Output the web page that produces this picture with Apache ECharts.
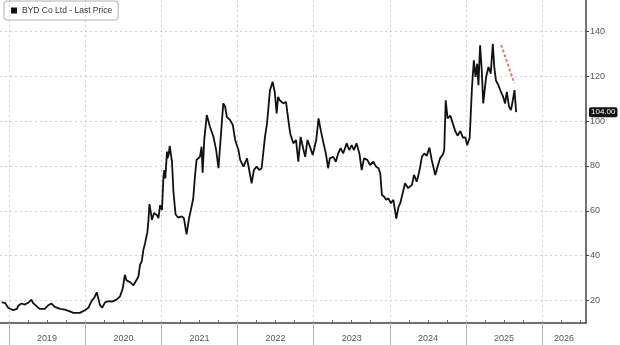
<!DOCTYPE html>
<html>
<head>
<meta charset="utf-8">
<script src="https://cdn.jsdelivr.net/npm/echarts@6/dist/echarts.min.js"></script>
<style>
  html, body { margin: 0; padding: 0; background: #ffffff; }
  #chart { width: 620px; height: 345px; }
</style>
</head>
<body>
<div id="chart"></div>
<script>
// ---- data ----
const seriesName = 'BYD Co Ltd - Last Price';

const dates = [
  '2018-11-26','2018-12-12','2018-12-27','2019-01-21','2019-02-07','2019-02-15','2019-03-01','2019-03-16',
  '2019-04-02','2019-04-18','2019-04-25','2019-05-12','2019-05-27','2019-06-21','2019-07-06','2019-07-22',
  '2019-08-08','2019-09-02','2019-09-25','2019-10-19','2019-11-05','2019-12-06','2019-12-30','2020-01-16',
  '2020-02-02','2020-02-13','2020-02-25','2020-03-03','2020-03-11','2020-03-22','2020-04-05','2020-04-20',
  '2020-05-08','2020-05-30','2020-06-16','2020-06-24','2020-06-29','2020-07-09','2020-07-17','2020-08-03',
  '2020-08-19','2020-09-05','2020-09-12','2020-09-20','2020-09-28','2020-10-06','2020-10-14','2020-10-19',
  '2020-10-25','2020-10-29','2020-11-04','2020-11-16','2020-11-26','2020-12-09','2020-12-17','2020-12-25',
  '2021-01-03','2021-01-10','2021-01-14','2021-01-19','2021-01-27','2021-01-29','2021-02-04','2021-02-09',
  '2021-02-12','2021-02-20','2021-02-27','2021-03-09','2021-03-21','2021-04-07','2021-04-18','2021-05-01',
  '2021-05-13','2021-05-25','2021-06-02','2021-06-10','2021-06-18','2021-07-04','2021-07-12','2021-07-17',
  '2021-07-25','2021-08-06','2021-08-21','2021-09-07','2021-09-20','2021-10-01','2021-10-12','2021-10-24',
  '2021-11-02','2021-11-10','2021-11-26','2021-12-09','2021-12-20','2022-01-05','2022-01-13','2022-01-29',
  '2022-02-15','2022-02-23','2022-03-09','2022-03-20','2022-04-02','2022-04-15','2022-04-26','2022-05-12',
  '2022-05-22','2022-06-05','2022-06-18','2022-06-28','2022-07-07','2022-07-14','2022-07-22','2022-08-08',
  '2022-08-21','2022-08-27','2022-09-10','2022-09-25','2022-10-08','2022-10-19','2022-10-30','2022-11-13',
  '2022-11-21','2022-12-02','2022-12-14','2022-12-27','2023-01-13','2023-01-24','2023-02-05','2023-02-17',
  '2023-02-28','2023-03-11','2023-03-19','2023-04-05','2023-04-17','2023-04-28','2023-05-10','2023-05-22',
  '2023-06-08','2023-06-20','2023-07-02','2023-07-13','2023-07-25','2023-08-08','2023-08-19','2023-08-30',
  '2023-09-15','2023-09-28','2023-10-14','2023-10-27','2023-11-08','2023-11-16','2023-11-24','2023-12-04',
  '2023-12-14','2023-12-25','2024-01-06','2024-01-18','2024-02-01','2024-02-12','2024-02-20','2024-03-14',
  '2024-03-29','2024-04-16','2024-04-26','2024-05-09','2024-05-21','2024-06-03','2024-06-14','2024-06-26',
  '2024-07-09','2024-07-20','2024-08-06','2024-08-17','2024-08-29','2024-09-12','2024-09-18','2024-09-25',
  '2024-10-04','2024-10-17','2024-10-29','2024-11-10','2024-11-21','2024-12-04','2024-12-17','2024-12-28',
  '2025-01-06','2025-01-18','2025-01-29','2025-02-07','2025-02-15','2025-02-23','2025-03-01','2025-03-09',
  '2025-03-17','2025-03-24','2025-04-07','2025-04-18','2025-04-29','2025-05-09','2025-05-16','2025-05-24',
  '2025-06-05','2025-06-17','2025-06-28','2025-07-07','2025-07-15','2025-07-26','2025-08-04','2025-08-13',
  '2025-08-21','2025-08-29'
];

const prices = [
  19.2,19.0,16.8,15.7,16.3,17.8,18.7,18.2,
  19.0,20.4,19.0,17.5,16.3,16.3,17.8,18.7,
  17.2,16.3,16.0,15.2,14.5,14.5,15.7,16.8,
  20.1,21.2,23.7,21.2,18.2,16.8,19.2,19.7,
  19.5,20.4,21.9,24.1,25.5,31.5,29.0,28.2,
  26.8,29.5,30.8,36.0,37.5,42.7,45.6,47.9,
  50.5,54.5,63.0,56.0,59.0,58.2,56.8,62.5,
  60.4,75.0,78.2,74.5,86.4,83.4,85.0,89.0,
  88.6,81.9,68.5,58.5,57.0,57.5,56.8,49.5,
  56.8,61.9,65.6,75.2,82.7,84.1,88.6,77.0,
  92.0,102.7,97.5,93.0,87.1,79.0,93.0,107.9,
  106.4,101.9,100.4,98.2,91.6,87.1,82.7,79.7,
  83.4,82.7,72.3,78.2,79.7,78.2,79.0,93.0,
  99.0,113.8,117.5,113.0,103.4,110.8,109.3,107.9,
  108.6,104.1,94.5,90.1,91.6,81.9,93.0,87.1,
  84.1,91.6,88.6,84.9,91.6,101.2,95.3,90.1,
  85.6,79.0,83.4,84.1,81.9,85.6,87.9,85.6,
  90.1,87.1,89.3,87.1,90.1,85.6,78.2,83.4,
  82.7,80.4,81.9,79.7,79.0,76.8,67.1,66.4,
  64.9,65.6,63.4,64.9,56.5,61.9,63.4,72.3,
  70.1,71.6,76.0,73.0,77.5,84.1,85.6,84.5,
  88.2,82.7,76.0,79.7,83.4,85.2,87.1,109.3,
  101.2,102.5,99.0,95.5,93.5,95.6,92.6,92.8,
  89.3,92.6,115.0,127.1,119.7,125.6,116.0,133.8,
  122.7,107.9,119.7,124.1,121.2,134.5,124.1,118.2,
  116.0,113.0,110.8,107.9,113.0,106.4,104.9,109.3,
  113.8,104.0
];

const yTickValues = [20, 40, 60, 80, 100, 120, 140];
const yearStarts = ['2019-01-01','2020-01-01','2021-01-01','2022-01-01','2023-01-01','2024-01-01','2025-01-01','2026-01-01'];
const yearLabelDates = ['2019-07-02','2020-07-02','2021-07-02','2022-07-02','2023-07-02','2024-07-02','2025-07-02','2026-04-16'];
const quarterMonths = ['04-01','07-01','10-01'];
const xRange = ['2018-11-18', '2026-07-30'];
const yRange = [10, 154];
const trendStart = ['2025-06-18', 134];
const trendEnd = ['2025-08-20', 117];

// ---- build ----
function toTs(s) {
  const p = s.split('-').map(Number);
  return Date.UTC(p[0], p[1] - 1, p[2]);
}
const lineData = dates.map((d, i) => [toTs(d), prices[i]]);
const quarterTicks = [];
yearStarts.forEach(ys => {
  const y = ys.slice(0, 4);
  quarterMonths.forEach(q => quarterTicks.push(toTs(y + '-' + q)));
});
const lastPrice = prices[prices.length - 1];
const FONT = 'Liberation Sans';

const chart = echarts.init(document.getElementById('chart'), null, { renderer: 'canvas' });
chart.setOption({
  animation: false,
  backgroundColor: '#ffffff',
  textStyle: { fontFamily: FONT },
  grid: { left: 0, right: 34, top: 0, bottom: 22, containLabel: false },
  legend: {
    data: [{ name: seriesName, icon: 'rect' }],
    left: 4, top: 1,
    padding: [5, 6, 5, 7],
    itemWidth: 6, itemHeight: 6, itemGap: 4,
    borderColor: '#b0b0b0', borderWidth: 1, borderRadius: 3,
    textStyle: { fontSize: 8.5, color: '#333', fontFamily: FONT }
  },
  xAxis: [
    {
      type: 'value',
      min: toTs(xRange[0]), max: toTs(xRange[1]),
      axisLine: { show: true, onZero: false, lineStyle: { color: '#444', width: 1.5 } },
      axisTick: { show: true, customValues: yearStarts.map(toTs), length: 22, inside: false, lineStyle: { color: '#b5b5b5', width: 1 } },
      axisLabel: {
        show: true, customValues: yearLabelDates.map(toTs), margin: 11,
        fontSize: 9, color: '#555', fontFamily: FONT,
        formatter: v => String(new Date(v).getUTCFullYear())
      },
      splitLine: { show: true, lineStyle: { color: '#cfcfcf', type: [2, 3], width: 1 } }
    },
    {
      type: 'value', position: 'bottom', gridIndex: 0,
      min: toTs(xRange[0]), max: toTs(xRange[1]),
      axisLine: { show: false, onZero: false },
      axisTick: { show: true, customValues: quarterTicks, inside: true, length: 3, lineStyle: { color: '#666', width: 1 } },
      axisLabel: { show: false },
      splitLine: { show: false }
    }
  ],
  yAxis: {
    type: 'value', position: 'right',
    min: yRange[0], max: yRange[1],
    axisLine: { show: true, lineStyle: { color: '#444', width: 1.5 } },
    axisTick: { show: true, customValues: yTickValues, length: 3, inside: false, lineStyle: { color: '#444' } },
    axisLabel: { show: true, customValues: yTickValues, margin: 4, fontSize: 9, color: '#555', fontFamily: FONT },
    splitLine: { show: true, lineStyle: { color: '#cfcfcf', type: [2, 3], width: 1 } }
  },
  series: [{
    name: seriesName,
    type: 'line',
    xAxisIndex: 0, yAxisIndex: 0,
    data: lineData,
    showSymbol: false, symbol: 'none',
    clip: false,
    lineStyle: { color: '#111', width: 1.8 },
    itemStyle: { color: '#111' },
    markLine: {
      silent: true,
      symbol: ['none', 'none'],
      data: [
        {
          yAxis: lastPrice,
          lineStyle: { color: 'rgba(0,0,0,0)', width: 0 },
          label: {
            show: true, position: 'end', distance: 3,
            formatter: p => Number(p.value).toFixed(2),
            backgroundColor: '#111', color: '#fff', fontSize: 8, fontFamily: FONT,
            padding: [1, 2, 1, 2], borderRadius: 2, opacity: 1
          }
        },
        [
          { coord: [toTs(trendStart[0]), trendStart[1]], lineStyle: { color: '#e06464', type: [3, 2], width: 2, opacity: 0.85 }, label: { show: false } },
          { coord: [toTs(trendEnd[0]), trendEnd[1]] }
        ]
      ]
    }
  }]
});
</script>
</body>
</html>
